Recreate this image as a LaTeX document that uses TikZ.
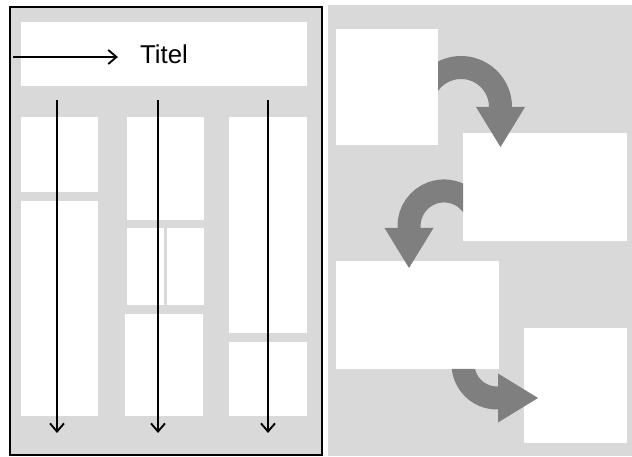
\documentclass[tikz,border=0pt]{standalone}
\usepackage{fontspec}
\setmainfont{Liberation Sans}
\usepackage{tikz}
\usetikzlibrary{arrows.meta}
\usetikzlibrary{fit}
\usetikzlibrary{calc}
\definecolor{panelgray}{HTML}{D9D9D9}
\definecolor{arrowgray}{HTML}{7F7F7F}
\tikzset{
  flat_node/.style = {inner sep=0pt, outer sep=0pt},
  frame_node/.style = {flat_node, draw=black, line width=1.5pt,
    fill=panelgray},% Seitenrahmen links
  panel_node/.style = {flat_node, fill=panelgray},% Hintergrund rechts
  cell_node/.style = {flat_node, fill=white},% weisse Felder
  title_text/.style = {inner sep=0pt, font=\fontsize{22}{26}\selectfont},
  read_arrow/.style = {draw=black, line width=1.6pt,
    -{Straight Barb[length=7pt, width=12pt]}},% Leserichtung
  flow_arrow/.style = {draw=arrowgray, line width=0.69cm,
    -{Triangle[length=1.2cm, width=1.47cm, line width=0pt]}}% dicke Pfeile
}

\begin{document}
\begin{tikzpicture}[x=0.03cm, y=0.03cm]
  \useasboundingbox (0,0) rectangle (632,457);
  % linke Seite
  \node [frame_node, fit={(10,2) (322,450)}] (page) {};
  \node [cell_node, fit={(21,371) (307,435)}] (titlebox) {};
  \node [title_text] (titel) at (titlebox.center) {Titel};
  \node [cell_node, fit={(21,265) (98,340)}] (l1a) {};
  \node [cell_node, fit={(21,41) (98,256)}] (l1b) {};
  \node [cell_node, fit={(127,237) (204,340)}] (l2a) {};
  \node [cell_node, fit={(127,152) (164,229)}] (l2b) {};
  \node [cell_node, fit={(167,152) (204,229)}] (l2c) {};
  \node [cell_node, fit={(125,41) (203,143)}] (l2d) {};
  \node [cell_node, fit={(229,124) (307,340)}] (l3a) {};
  \node [cell_node, fit={(229,41) (307,115)}] (l3b) {};
  \coordinate (in) at (13,400);
  \draw [read_arrow, shorten >=0.66cm] (in) -- (titel.west |- in);
  \foreach \x [count=\i] in {57,158,268}{
    \coordinate (top\i) at (\x,357);
    \coordinate (bot\i) at (\x,24);
    \draw [read_arrow] (top\i) -- (bot\i);
  }
  % rechte Seite
  \node [panel_node, fit={(328,1) (632,452)}] (right) {};
  \node [cell_node, fit={(336,312) (438,428)}] (blk_a) {};
  \node [cell_node, fit={(463,216) (627,324)}] (blk_b) {};
  \node [cell_node, fit={(336,88) (499,196)}] (blk_c) {};
  \node [cell_node, fit={(524,14) (627,129)}] (blk_d) {};
  \begin{scope}[even odd rule]
    \clip (right.south west) rectangle (right.north east)
      (blk_a.south west) rectangle (blk_a.north east);
    \draw [flow_arrow] ($(blk_a.east)+(-14.1,-6.5)$)
      arc [start angle=160, end angle=0, radius=39.5] -- ++(0,-40);
  \end{scope}
  \begin{scope}[even odd rule]
    \clip (right.south west) rectangle (right.north east)
      (blk_b.south west) rectangle (blk_b.north east);
    \draw [flow_arrow] ($(blk_b.west)+(13.9,-27)$)
      arc [start angle=20, end angle=180, radius=35] -- ++(0,-42);
  \end{scope}
  \begin{scope}[even odd rule]
    \clip (right.south west) rectangle (right.north east)
      (blk_c.south west) rectangle (blk_c.north east);
    \draw [flow_arrow] ($(blk_c.south)+(45.5,22)$) -- ++(0,-17)
      arc [start angle=180, end angle=270, radius=34] -- ++(41,0);
  \end{scope}
\end{tikzpicture}
\end{document}
